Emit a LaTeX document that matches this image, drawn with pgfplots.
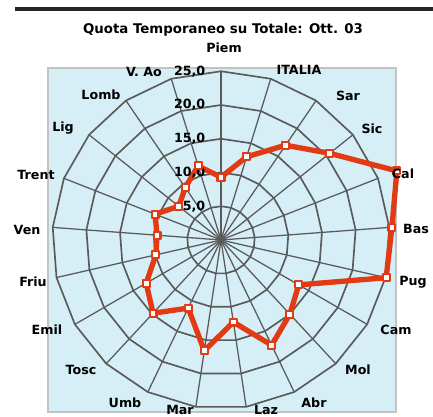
\documentclass[border=0pt]{standalone}
\usepackage{fontspec}
\setmainfont{DejaVu Sans}
\usepackage{pgfplots}
\usepackage{pgfplotstable}
\pgfplotsset{compat=1.18}
\usepgfplotslibrary{polar}
\pgfdeclarelayer{background}
\pgfsetlayers{background,main}
\definecolor{bgblue}{RGB}{214,239,246}
\definecolor{gridgray}{RGB}{90,90,90}
\definecolor{datared}{RGB}{226,58,18}
\definecolor{framegray}{RGB}{195,195,195}

% angle (deg, polar) and value for each category
\pgfplotstableread{
a r
90 9.3
72.857 12.9
55.714 17.0
38.571 20.6
21.429 28.0
4.286 25.4
347.143 25.1
330 13.3
312.857 15.0
295.714 17.3
278.571 12.3
261.429 16.6
244.286 11.2
227.143 14.8
210 12.8
192.857 9.9
175.714 9.5
158.571 10.5
141.429 8.0
124.286 9.4
107.143 11.5
90 9.3
}\datatable

\begin{document}
\begin{tikzpicture}
\begin{polaraxis}[
  scale only axis,
  width=253.1pt, height=253.1pt,
  xmin=0, xmax=360, ymin=0, ymax=25,
  hide axis,
  clip=false,
]
\pgfplotsinvokeforeach{90,72.857,55.714,38.571,21.429,4.286,347.143,330,312.857,295.714,278.571,261.429,244.286,227.143,210,192.857,175.714,158.571,141.429,124.286,107.143}{
  \addplot[gridgray, line width=0.95pt, forget plot] coordinates {(#1,0) (#1,25)};
}
\pgfplotsinvokeforeach{5,10,15,20,25}{
  \addplot[gridgray, line width=1.25pt, forget plot] table[x=a, y expr=#1] {\datatable};
}
\addplot[datared, line width=4pt, line join=round, mark=square*, mark size=2.6pt,
  mark options={fill=white, draw=datared, line width=1.6pt, solid}]
  table[x=a, y=r] {\datatable};
\coordinate (C) at (axis cs:0,0);
\begin{scope}[font=\fontsize{9.5}{11}\selectfont\bfseries]
\node[anchor=east, xshift=-8.25pt] at (axis cs:90,5) {5,0};
\node[anchor=east, xshift=-8.25pt] at (axis cs:90,10) {10,0};
\node[anchor=east, xshift=-8.25pt] at (axis cs:90,15) {15,0};
\node[anchor=east, xshift=-8.25pt] at (axis cs:90,20) {20,0};
\node[anchor=east, xshift=-8.25pt] at (axis cs:90,25) {25,0};
\end{scope}
\end{polaraxis}

\begin{pgfonlayer}{background}
\begin{scope}[shift={(C)}, x=1pt, y=1pt]
\fill[bgblue] (-129.75,-129) rectangle (131.25,129);
\draw[framegray, line width=1.5pt] (-129.75,-129) rectangle (131.25,129);
\end{scope}
\end{pgfonlayer}

\begin{scope}[shift={(C)}, x=1pt, y=1pt, font=\fontsize{9.5}{11}\selectfont\bfseries]
\node at (2.25,144) {Piem};
\node at (58.5,127.5) {ITALIA};
\node at (95.25,108) {Sar};
\node at (113.25,83.25) {Sic};
\node at (136.5,49.5) {Cal};
\node at (146.25,8.25) {Bas};
\node at (144,-31.5) {Pug};
\node at (131.25,-67.5) {Cam};
\node at (102.75,-97.5) {Mol};
\node at (69.75,-122.25) {Abr};
\node at (33.75,-127.5) {Laz};
\node at (-30.75,-127.5) {Mar};
\node at (-72,-122.25) {Umb};
\node at (-105,-97.5) {Tosc};
\node at (-130.5,-67.5) {Emil};
\node at (-141,-31.5) {Friu};
\node at (-145.5,7.5) {Ven};
\node at (-138.75,48.75) {Trent};
\node at (-118.5,84) {Lig};
\node at (-90,108.75) {Lomb};
\node at (-57.75,126) {V. Ao};
\node[font=\fontsize{10}{12}\selectfont\bfseries] at (1.5,157.5) {Quota Temporaneo su Totale: Ott. 03};
\draw[black!85, line width=3.5pt] (-154.5,173.25) -- (159,173.25);
\end{scope}

\pgfresetboundingbox
\path[use as bounding box, shift={(C)}, x=1pt, y=1pt] (-165.75,-132.75) rectangle (159,180);
\end{tikzpicture}
\end{document}
